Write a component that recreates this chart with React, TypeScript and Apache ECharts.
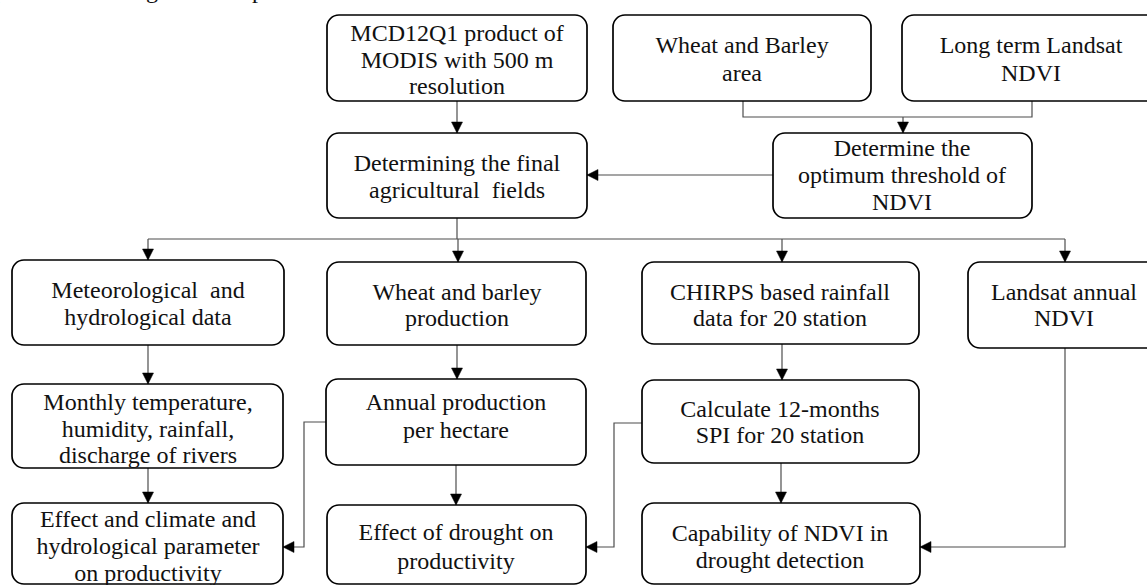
import React, { useEffect, useRef } from "react";
import * as echarts from "echarts";

// Box texts (one entry per box, one string per line)
const boxLabels: string[][] = [
  ["MCD12Q1 product of", "MODIS with 500 m", "resolution"],
  ["Wheat and Barley", "area"],
  ["Long term Landsat", "NDVI"],
  ["Determining the final", "agricultural  fields"],
  ["Determine the", "optimum threshold of", "NDVI"],
  ["Meteorological  and", "hydrological data"],
  ["Wheat and barley", "production"],
  ["CHIRPS based rainfall", "data for 20 station"],
  ["Landsat annual", "NDVI"],
  ["Monthly temperature,", "humidity, rainfall,", "discharge of rivers"],
  ["Annual production", "per hectare"],
  ["Calculate 12-months", "SPI for 20 station"],
  ["Effect and climate and", "hydrological parameter", "on productivity"],
  ["Effect of drought on", "productivity"],
  ["Capability of NDVI in", "drought detection"],
];

// Layout: [x0, y0, x1, y1, textCenterX, firstLineY, lineGap]
const boxLayout: number[][] = [
  [327, 15, 587, 101, 457, 33, 26.5],
  [613, 15, 871, 101, 742, 45, 28],
  [902, 15, 1160, 101, 1031, 45, 28],
  [327, 133, 587, 218, 457, 163, 27],
  [773, 133, 1032, 218, 902, 148, 27],
  [12, 260, 284, 345, 148, 290, 27],
  [327, 262, 586, 345, 457, 292, 26],
  [642, 262, 919, 344, 780, 292, 26],
  [968, 262, 1160, 348, 1064, 292, 26],
  [12, 384, 283, 468, 148, 402, 26.5],
  [326, 379, 586, 465, 456, 402, 28],
  [642, 380, 919, 463, 780, 409, 26],
  [12, 503, 283, 584, 148, 519, 27],
  [327, 505, 586, 584, 456, 532, 29],
  [642, 503, 920, 584, 780, 533, 27],
];

// Connectors: point lists, whether they end with an arrowhead
const connectors: { pts: number[][]; arrow: boolean }[] = [
  { pts: [[457, 101], [457, 133]], arrow: true },
  { pts: [[743, 101], [743, 117], [1032, 117], [1032, 101]], arrow: false },
  { pts: [[903, 117], [903, 133]], arrow: true },
  { pts: [[773, 175], [587, 175]], arrow: true },
  { pts: [[457, 218], [457, 239]], arrow: false },
  { pts: [[148, 239], [1065, 239]], arrow: false },
  { pts: [[148, 239], [148, 260]], arrow: true },
  { pts: [[458, 239], [458, 262]], arrow: true },
  { pts: [[782, 239], [782, 262]], arrow: true },
  { pts: [[1065, 239], [1065, 262]], arrow: true },
  { pts: [[148, 345], [148, 384]], arrow: true },
  { pts: [[457, 345], [457, 379]], arrow: true },
  { pts: [[782, 344], [782, 380]], arrow: true },
  { pts: [[148, 468], [148, 503]], arrow: true },
  { pts: [[456, 465], [456, 505]], arrow: true },
  { pts: [[781, 463], [781, 503]], arrow: true },
  { pts: [[326, 422], [304, 422], [304, 547], [283, 547]], arrow: true },
  { pts: [[642, 423], [614, 423], [614, 547], [586, 547]], arrow: true },
  { pts: [[1065, 348], [1065, 547], [920, 547]], arrow: true },
];

const topCutText = "parameters on agricultural production.";

const FAMILY = '"Liberation Serif", "Times New Roman", serif';

function arrowHead(p0: number[], p1: number[]) {
  const dx = p1[0] - p0[0];
  const dy = p1[1] - p0[1];
  const len = Math.sqrt(dx * dx + dy * dy) || 1;
  const ux = dx / len;
  const uy = dy / len;
  const L = 11;
  const W = 5.5;
  const bx = p1[0] - ux * L;
  const by = p1[1] - uy * L;
  return [
    [p1[0], p1[1]],
    [bx - uy * W, by + ux * W],
    [bx + uy * W, by - ux * W],
  ];
}

export default function App() {
  const ref = useRef<HTMLDivElement>(null);
  useEffect(() => {
    if (!ref.current) return;
    const chart = echarts.init(ref.current, undefined, { renderer: "svg" });
    const elements: any[] = [];

    elements.push({
      type: "text",
      z: 5,
      style: {
        text: topCutText,
        x: -6,
        y: -10,
        fontFamily: FAMILY,
        fontSize: 24,
        fill: "#111",
        textAlign: "left",
        textVerticalAlign: "middle",
        align: "left",
        verticalAlign: "middle",
      },
    });

    connectors.forEach((c) => {
      elements.push({
        type: "polyline",
        z: 1,
        shape: { points: c.pts },
        style: { stroke: "#4d4d4d", lineWidth: 1.2, fill: null },
      });
      if (c.arrow) {
        const n = c.pts.length;
        elements.push({
          type: "polygon",
          z: 3,
          shape: { points: arrowHead(c.pts[n - 2], c.pts[n - 1]) },
          style: { fill: "#000", stroke: "#000", lineWidth: 0.5 },
        });
      }
    });

    boxLayout.forEach((b, i) => {
      const [x0, y0, x1, y1, cx, ly, gap] = b;
      elements.push({
        type: "rect",
        z: 2,
        shape: { x: x0, y: y0, width: x1 - x0, height: y1 - y0, r: 12 },
        style: { fill: "#fff", stroke: "#000", lineWidth: 1.7 },
      });
      boxLabels[i].forEach((line, j) => {
        elements.push({
          type: "text",
          z: 4,
          style: {
            text: line,
            x: cx,
            y: ly + j * gap,
            fontFamily: FAMILY,
            fontSize: 24,
            fill: "#111",
            textAlign: "center",
            textVerticalAlign: "middle",
            align: "center",
            verticalAlign: "middle",
          },
        });
      });
    });

    chart.setOption({
      animation: false,
      backgroundColor: "#fff",
      graphic: { elements },
    });
    return () => chart.dispose();
  }, []);
  return (
    <div
      ref={ref}
      style={{ position: "absolute", left: 0, top: 0, width: 1147, height: 585, background: "#fff" }}
    />
  );
}
